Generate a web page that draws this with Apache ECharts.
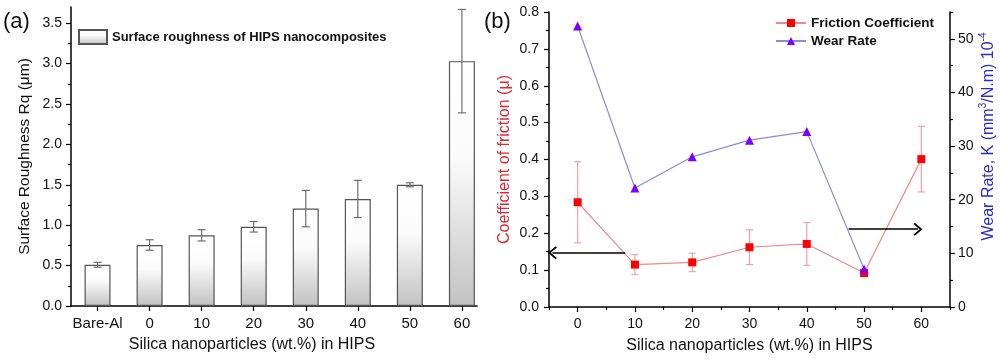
<!DOCTYPE html>
<html><head><meta charset="utf-8">
<script src="https://cdn.jsdelivr.net/npm/echarts@6/dist/echarts.min.js"></script>
<style>html,body{margin:0;padding:0;background:#fff}#c{width:1000px;height:362px}</style>
</head><body><div id="c"></div>
<script>
// ---- data: panel (a) ----
const roughCategories = ['Bare-Al', '0', '10', '20', '30', '40', '50', '60'];
const roughValues = [0.51, 0.755, 0.875, 0.98, 1.205, 1.325, 1.50, 3.03];
const roughErrors = [0.03, 0.065, 0.07, 0.065, 0.225, 0.23, 0.025, 0.64];
const roughYTicks = [0, 0.5, 1.0, 1.5, 2.0, 2.5, 3.0, 3.5];
const roughYMinorTicks = [0.25, 0.75, 1.25, 1.75, 2.25, 2.75, 3.25];
// ---- data: panel (b) ----
const frictionX = [0, 10, 20, 30, 40, 50, 60];
const frictionValues = [0.284, 0.115, 0.121, 0.162, 0.171, 0.092, 0.401];
const frictionErrors = [0.11, 0.027, 0.025, 0.047, 0.058, 0.004, 0.089];
const wearX = [0, 10, 20, 30, 40, 50];
const wearValues = [52.4, 22.2, 28.0, 31.1, 32.7, 7.1];
const silicaTicks = [0, 10, 20, 30, 40, 50, 60];
const silicaMinorTicks = [-5, 5, 15, 25, 35, 45, 55, 65];
const frictionTicks = [0, 0.1, 0.2, 0.3, 0.4, 0.5, 0.6, 0.7, 0.8];
const frictionMinorTicks = [0.05, 0.15, 0.25, 0.35, 0.45, 0.55, 0.65, 0.75];
const wearTicks = [0, 10, 20, 30, 40, 50];
const wearMinorTicks = [5, 15, 25, 35, 45, 55];
const leftArrow = [[8.3, 0.147], [-4.4, 0.147]];
const rightArrow = [[47.3, 14.5], [59.4, 14.5]];

const FONT = '"Liberation Sans", Arial, sans-serif';
const chevron = 'path://M10,0 L20,10 L18.2,11.8 L10,3.6 L1.8,11.8 L0,10 Z';

function errRender(capHalf, color, width) {
  return function (params, api) {
    const x = api.value(0), lo = api.value(1), hi = api.value(2);
    const a = api.coord([x, hi]), b = api.coord([x, lo]);
    const style = { stroke: color, lineWidth: width, fill: null };
    return { type: 'group', children: [
      { type: 'line', shape: { x1: a[0], y1: a[1], x2: b[0], y2: b[1] }, style },
      { type: 'line', shape: { x1: a[0] - capHalf, y1: a[1], x2: a[0] + capHalf, y2: a[1] }, style },
      { type: 'line', shape: { x1: b[0] - capHalf, y1: b[1], x2: b[0] + capHalf, y2: b[1] }, style }
    ]};
  };
}

const axisLine = { show: true, onZero: false, lineStyle: { color: '#000', width: 1.5 } };
const noLine = { show: false, onZero: false };
const labelStyle = { color: '#111', fontFamily: FONT, fontSize: 14 };
const tickStyle = { color: '#000', width: 1.2 };

const barGradient = new echarts.graphic.LinearGradient(0, 0, 0, 1, [
  { offset: 0, color: '#ffffff' }, { offset: 0.4, color: '#fbfbfb' }, { offset: 1, color: '#c2c2c2' }
]);

const option = {
  animation: false,
  backgroundColor: '#fff',
  grid: [
    { left: 71, right: 523, top: 7, bottom: 56 },
    { left: 549, right: 50, top: 12, bottom: 55 }
  ],
  graphic: [
    { type: 'text', left: 3, top: 11, style: { text: '(a)', font: '22px ' + FONT, fill: '#111' } },
    { type: 'text', left: 484, top: 11, style: { text: '(b)', font: '22px ' + FONT, fill: '#111' } }
  ],
  legend: [
    { data: ['Surface roughness of HIPS nanocomposites'], icon: 'rect', padding: 0, left: 78, top: 29, itemWidth: 28, itemHeight: 14,
      textStyle: { fontFamily: FONT, fontWeight: 'bold', fontSize: 13, color: '#111' } },
    { data: ['Friction Coefficient', 'Wear Rate'], orient: 'vertical', padding: 0, left: 775, top: 16, itemWidth: 30, itemHeight: 10, itemGap: 4,
      textStyle: { fontFamily: FONT, fontWeight: 'bold', fontSize: 13.5, color: '#111' } }
  ],
  xAxis: [
    { gridIndex: 0, type: 'value', min: -0.51, max: 7.29, axisLine,
      splitLine: { show: false },
      axisTick: { customValues: roughCategories.map((c, i) => i), length: 5, lineStyle: tickStyle },
      axisLabel: { customValues: roughCategories.map((c, i) => i), formatter: v => roughCategories[Math.round(v)], margin: 10, fontSize: 15, color: '#111', fontFamily: FONT },
      name: 'Silica nanoparticles (wt.%) in HIPS', nameLocation: 'middle', nameGap: 31,
      nameTextStyle: { fontFamily: FONT, fontSize: 16, color: '#111', padding: [0, 44, 0, 0] } },
    { gridIndex: 1, type: 'value', min: -5, max: 65, axisLine,
      splitLine: { show: false },
      axisTick: { customValues: silicaTicks, length: 5, lineStyle: tickStyle },
      axisLabel: Object.assign({ customValues: silicaTicks, margin: 10 }, labelStyle),
      name: 'Silica nanoparticles (wt.%) in HIPS', nameLocation: 'middle', nameGap: 31,
      nameTextStyle: { fontFamily: FONT, fontSize: 16, color: '#111' } },
    { gridIndex: 1, type: 'value', min: -5, max: 65, position: 'bottom', axisLine: noLine,
      splitLine: { show: false },
      axisTick: { customValues: silicaMinorTicks, length: 3, lineStyle: tickStyle },
      axisLabel: { show: false } }
  ],
  yAxis: [
    { gridIndex: 0, type: 'value', min: 0, max: 3.7, position: 'left', axisLine,
      splitLine: { show: false },
      axisTick: { customValues: roughYTicks, length: 5, lineStyle: tickStyle },
      axisLabel: Object.assign({ customValues: roughYTicks, formatter: v => v.toFixed(1), margin: 9 }, labelStyle),
      name: 'Surface Roughness Rq (\u03bcm)', nameLocation: 'middle', nameGap: 38,
      nameTextStyle: { fontFamily: FONT, fontSize: 15.5, color: '#111' } },
    { gridIndex: 0, type: 'value', min: 0, max: 3.7, position: 'left', axisLine: noLine,
      splitLine: { show: false },
      axisTick: { customValues: roughYMinorTicks, length: 3, lineStyle: tickStyle },
      axisLabel: { show: false } },
    { gridIndex: 1, type: 'value', min: 0, max: 0.8, position: 'left', axisLine,
      splitLine: { show: false },
      axisTick: { customValues: frictionTicks, length: 5, lineStyle: tickStyle },
      axisLabel: Object.assign({ customValues: frictionTicks, formatter: v => v.toFixed(1), margin: 10 }, labelStyle),
      name: 'Coefficient of friction (\u03bc)', nameLocation: 'middle', nameGap: 36,
      nameTextStyle: { fontFamily: FONT, fontSize: 16, color: '#e3262e' } },
    { gridIndex: 1, type: 'value', min: 0, max: 0.8, position: 'left', axisLine: noLine,
      splitLine: { show: false },
      axisTick: { customValues: frictionMinorTicks, length: 3, lineStyle: tickStyle },
      axisLabel: { show: false } },
    { gridIndex: 1, type: 'value', min: 0, max: 55, position: 'right', axisLine,
      splitLine: { show: false },
      axisTick: { customValues: wearTicks, length: 5, lineStyle: tickStyle },
      axisLabel: Object.assign({ customValues: wearTicks, margin: 8 }, labelStyle),
      name: '{t|Wear Rate, K (mm}{s|3}{t|/N.m) 10}{s|-4}', nameLocation: 'middle', nameGap: 28,
      nameTextStyle: { fontFamily: FONT, fontSize: 16, color: '#2a2ad0', padding: [0, 0, 0, 46],
        rich: {
          t: { fontFamily: FONT, fontSize: 16, color: '#2a2ad0', verticalAlign: 'bottom', lineHeight: 19 },
          s: { fontFamily: FONT, fontSize: 10, color: '#2a2ad0', verticalAlign: 'top', lineHeight: 19 }
        } } },
    { gridIndex: 1, type: 'value', min: 0, max: 55, position: 'right', axisLine: noLine,
      splitLine: { show: false },
      axisTick: { customValues: wearMinorTicks, length: 3, lineStyle: tickStyle },
      axisLabel: { show: false } }
  ],
  series: [
    { name: 'Surface roughness of HIPS nanocomposites', type: 'bar', xAxisIndex: 0, yAxisIndex: 0, barWidth: 26,
      data: roughValues.map((v, i) => [i, v]),
      itemStyle: { color: barGradient, borderColor: '#555', borderWidth: 1.2 } },
    { name: 'roughErr', type: 'custom', xAxisIndex: 0, yAxisIndex: 0, z: 5,
      renderItem: errRender(4, '#6e6e6e', 1.2), encode: { x: 0, y: [1, 2] },
      data: roughValues.map((v, i) => [i, v - roughErrors[i], v + roughErrors[i]]) },
    { name: 'frictionErr', type: 'custom', xAxisIndex: 1, yAxisIndex: 2, z: 2,
      renderItem: errRender(3.5, '#f2a0a5', 1.2), encode: { x: 0, y: [1, 2] },
      data: frictionValues.map((v, i) => [frictionX[i], v - frictionErrors[i], v + frictionErrors[i]]) },
    { name: 'Friction Coefficient', type: 'line', xAxisIndex: 1, yAxisIndex: 2, z: 3,
      symbol: 'rect', symbolSize: 8,
      data: frictionValues.map((v, i) => [frictionX[i], v]),
      itemStyle: { color: '#ff0000' }, lineStyle: { color: '#f4868d', width: 1.2 },
      markLine: { silent: true, symbol: ['none', chevron], symbolSize: [13, 9], label: { show: false },
        lineStyle: { color: '#000', width: 1.6, type: 'solid' },
        data: [[{ coord: leftArrow[0] }, { coord: leftArrow[1] }]] } },
    { name: 'Wear Rate', type: 'line', xAxisIndex: 1, yAxisIndex: 4, z: 4,
      symbol: 'triangle', symbolSize: 9,
      data: wearValues.map((v, i) => [wearX[i], v]),
      itemStyle: { color: '#7b00ff' }, lineStyle: { color: '#8a8ae6', width: 1.2 },
      markLine: { silent: true, symbol: ['none', chevron], symbolSize: [13, 9], label: { show: false },
        lineStyle: { color: '#000', width: 1.6, type: 'solid' },
        data: [[{ coord: rightArrow[0] }, { coord: rightArrow[1] }]] } }
  ]
};
const chart = echarts.init(document.getElementById('c'), null, { renderer: 'canvas' });
chart.setOption(option);
</script></body></html>
